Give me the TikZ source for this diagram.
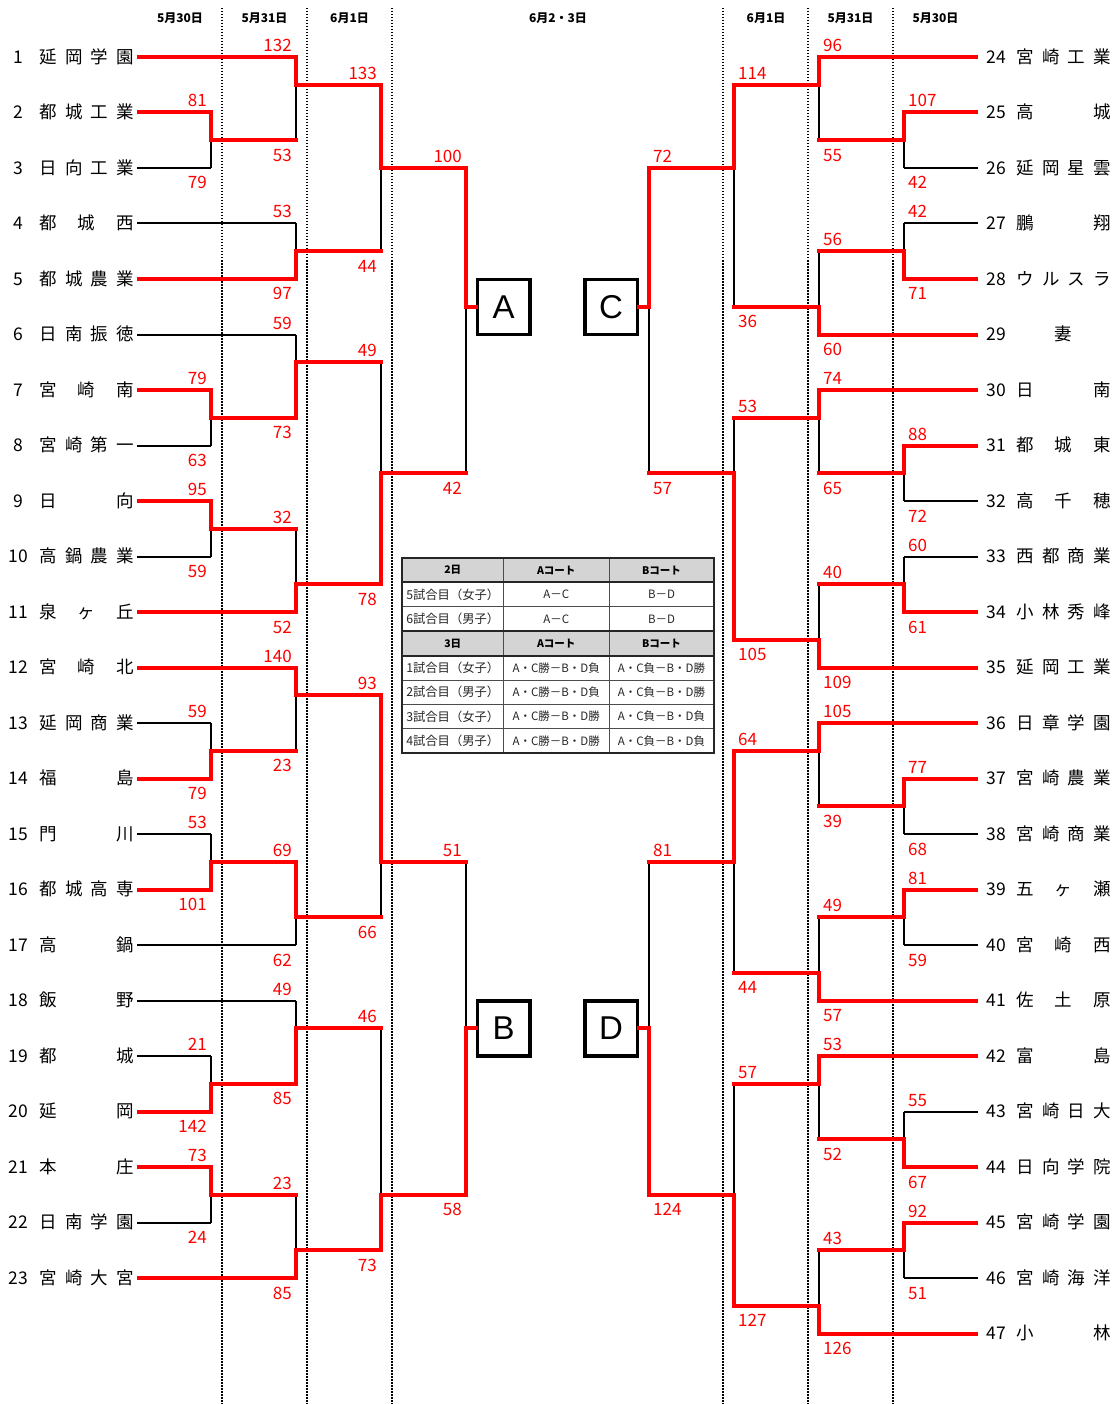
\documentclass[tikz,border=0pt]{standalone}
\usepackage{fontspec}
\setmainfont{Noto Sans CJK JP}
\newfontfamily\boxfont{Liberation Sans}
\pgfdeclarelayer{bg}
\pgfsetlayers{bg,main}
\definecolor{brred}{RGB}{255,0,0}
\definecolor{hdrgray}{RGB}{212,212,212}
\tikzset{
  win/.style={draw=brred, line width=4pt, line cap=rect, line join=miter},
  teamwin/.style={draw=brred, line width=4pt},
  lose/.style={draw=black, line width=2pt},
  score/.style={text=brred, inner sep=0pt, font=\fontsize{17}{17}\selectfont},
  tnum/.style={inner sep=0pt, anchor=base, font=\fontsize{17.5}{17.5}\selectfont},
  tname/.style={inner sep=0pt, anchor=base west, font=\fontsize{17.5}{17.5}\selectfont},
  datehdr/.style={inner sep=0pt, font=\bfseries\fontsize{12}{12}\selectfont},
  courtbox/.style={draw=black, line width=3.5pt, fill=white, minimum width=52.5pt, minimum height=55pt, inner sep=0pt, font=\boxfont\fontsize{33}{33}\selectfont},
  dotline/.style={draw=black, line width=1.5pt, dash pattern=on 1.5pt off 1.5pt},
  cellh/.style={inner sep=0pt, font=\bfseries\fontsize{10.5}{10.5}\selectfont},
  cellb/.style={inner sep=0pt, text=black!85, font=\fontsize{11.5}{11.5}\selectfont},
  cellf/.style={inner sep=0pt, text=black!85, font=\fontsize{12.3}{12.3}\selectfont},
  gridthin/.style={draw=black!70, line width=0.8pt},
  gridthick/.style={draw=black!85, line width=2pt},
}
% team on the left: num, y, end x, won(1/0), name
\newcommand\teamL[5]{%
  \ifnum#4=1 \draw[teamwin] (137,#2) -- (#3,#2);%
  \else \begin{pgfonlayer}{bg}\draw[lose] (137,#2) -- (#3,#2);\end{pgfonlayer}\fi
  \node[tnum] (n#1) at (18,#2+6.3) {#1};
  \node[tname] (t#1) at (39.5,#2+6.3) {\hbox to 94pt{#5}};
}
\newcommand\teamR[5]{%
  \ifnum#4=1 \draw[teamwin] (978,#2) -- (#3,#2);%
  \else \begin{pgfonlayer}{bg}\draw[lose] (978,#2) -- (#3,#2);\end{pgfonlayer}\fi
  \node[tnum] (n#1) at (996,#2+6.3) {#1};
  \node[tname] (t#1) at (1016.3,#2+6.3) {\hbox to 94pt{#5}};
}
% match: x, top y, bottom y, join y, out x, winner(1 top/2 bottom), top score, bottom score, id
\newcommand\mtchL[9]{%
  \begin{pgfonlayer}{bg}%
  \ifnum#6=1 \draw[lose] (#1,#4) -- (#1,#3);\else \draw[lose] (#1,#4) -- (#1,#2);\fi
  \end{pgfonlayer}%
  \ifnum#6=1 \draw[win] (#1,#2) -- (#1,#4) -- (#5,#4);\else \draw[win] (#1,#3) -- (#1,#4) -- (#5,#4);\fi
  \node[score, anchor=base east] (s#9a) at (#1-4,#2-5.5) {#7};
  \node[score, anchor=base east] (s#9b) at (#1-4,#3+21) {#8};
}
\newcommand\mtchR[9]{%
  \begin{pgfonlayer}{bg}%
  \ifnum#6=1 \draw[lose] (#1,#4) -- (#1,#3);\else \draw[lose] (#1,#4) -- (#1,#2);\fi
  \end{pgfonlayer}%
  \ifnum#6=1 \draw[win] (#1,#2) -- (#1,#4) -- (#5,#4);\else \draw[win] (#1,#3) -- (#1,#4) -- (#5,#4);\fi
  \node[score, anchor=base west] (s#9a) at (#1+4,#2-5.5) {#7};
  \node[score, anchor=base west] (s#9b) at (#1+4,#3+21) {#8};
}
\begin{document}
\begin{tikzpicture}[x=1pt,y=-1pt]
\useasboundingbox (0,0) rectangle (1114,1404);
\begin{pgfonlayer}{bg}
\fill[white] (0,0) rectangle (1114,1404);
\foreach \dx in {222,307,392,723,808,893} \draw[dotline] (\dx,8) -- (\dx,1404);
\end{pgfonlayer}

% date headers
\node[datehdr] (d1) at (180,18) {5月30日};
\node[datehdr] (d2) at (264.5,18) {5月31日};
\node[datehdr] (d3) at (349.5,18) {6月1日};
\node[datehdr] (d4) at (558,18) {6月2・3日};
\node[datehdr] (d5) at (766,18) {6月1日};
\node[datehdr] (d6) at (850.5,18) {5月31日};
\node[datehdr] (d7) at (935.5,18) {5月30日};

% boxes
\node[courtbox] (A) at (503.5,307) {A};
\node[courtbox] (B) at (503.5,1028.25) {B};
\node[courtbox] (C) at (611,307) {C};
\node[courtbox] (D) at (611,1028.25) {D};

% left teams
\teamL{1}{57}{296}{1}{延\hfil 岡\hfil 学\hfil 園}
\teamL{2}{112.5}{211}{1}{都\hfil 城\hfil 工\hfil 業}
\teamL{3}{168}{211}{0}{日\hfil 向\hfil 工\hfil 業}
\teamL{4}{223.5}{296}{0}{都\hfil 城\hfil 西}
\teamL{5}{279}{296}{1}{都\hfil 城\hfil 農\hfil 業}
\teamL{6}{334.5}{296}{0}{日\hfil 南\hfil 振\hfil 徳}
\teamL{7}{390}{211}{1}{宮\hfil 崎\hfil 南}
\teamL{8}{445.5}{211}{0}{宮\hfil 崎\hfil 第\hfil 一}
\teamL{9}{501}{211}{1}{日\hfil 向}
\teamL{10}{556.5}{211}{0}{高\hfil 鍋\hfil 農\hfil 業}
\teamL{11}{612}{296}{1}{泉\hfil ヶ\hfil 丘}
\teamL{12}{667.5}{296}{1}{宮\hfil 崎\hfil 北}
\teamL{13}{723}{211}{0}{延\hfil 岡\hfil 商\hfil 業}
\teamL{14}{778.5}{211}{1}{福\hfil 島}
\teamL{15}{834}{211}{0}{門\hfil 川}
\teamL{16}{889.5}{211}{1}{都\hfil 城\hfil 高\hfil 専}
\teamL{17}{945}{296}{0}{高\hfil 鍋}
\teamL{18}{1000.5}{296}{0}{飯\hfil 野}
\teamL{19}{1056}{211}{0}{都\hfil 城}
\teamL{20}{1111.5}{211}{1}{延\hfil 岡}
\teamL{21}{1167}{211}{1}{本\hfil 庄}
\teamL{22}{1222.5}{211}{0}{日\hfil 南\hfil 学\hfil 園}
\teamL{23}{1278}{296}{1}{宮\hfil 崎\hfil 大\hfil 宮}

% right teams
\teamR{24}{57}{819}{1}{宮\hfil 崎\hfil 工\hfil 業}
\teamR{25}{112.5}{904}{1}{高\hfil 城}
\teamR{26}{168}{904}{0}{延\hfil 岡\hfil 星\hfil 雲}
\teamR{27}{223.5}{904}{0}{鵬\hfil 翔}
\teamR{28}{279}{904}{1}{ウ\hfil ル\hfil ス\hfil ラ}
\teamR{29}{334.5}{819}{1}{\hfil 妻\hfil}
\teamR{30}{390}{819}{1}{日\hfil 南}
\teamR{31}{445.5}{904}{1}{都\hfil 城\hfil 東}
\teamR{32}{501}{904}{0}{高\hfil 千\hfil 穂}
\teamR{33}{556.5}{904}{0}{西\hfil 都\hfil 商\hfil 業}
\teamR{34}{612}{904}{1}{小\hfil 林\hfil 秀\hfil 峰}
\teamR{35}{667.5}{819}{1}{延\hfil 岡\hfil 工\hfil 業}
\teamR{36}{723}{819}{1}{日\hfil 章\hfil 学\hfil 園}
\teamR{37}{778.5}{904}{1}{宮\hfil 崎\hfil 農\hfil 業}
\teamR{38}{834}{904}{0}{宮\hfil 崎\hfil 商\hfil 業}
\teamR{39}{889.5}{904}{1}{五\hfil ヶ\hfil 瀬}
\teamR{40}{945}{904}{0}{宮\hfil 崎\hfil 西}
\teamR{41}{1000.5}{819}{1}{佐\hfil 土\hfil 原}
\teamR{42}{1056}{819}{1}{富\hfil 島}
\teamR{43}{1111.5}{904}{0}{宮\hfil 崎\hfil 日\hfil 大}
\teamR{44}{1167}{904}{1}{日\hfil 向\hfil 学\hfil 院}
\teamR{45}{1222.5}{904}{1}{宮\hfil 崎\hfil 学\hfil 園}
\teamR{46}{1278}{904}{0}{宮\hfil 崎\hfil 海\hfil 洋}
\teamR{47}{1333.5}{819}{1}{小\hfil 林}

% left matches, block A
\mtchL{211}{112.5}{168}{140.25}{296}{1}{81}{79}{1}
\mtchL{296}{57}{140.25}{84.75}{381}{1}{132}{53}{2}
\mtchL{296}{223.5}{279}{251.25}{381}{2}{53}{97}{3}
\mtchL{381}{84.75}{251.25}{168}{466}{1}{133}{44}{4}
\mtchL{211}{390}{445.5}{417.75}{296}{1}{79}{63}{5}
\mtchL{296}{334.5}{417.75}{362.25}{381}{2}{59}{73}{6}
\mtchL{211}{501}{556.5}{528.75}{296}{1}{95}{59}{7}
\mtchL{296}{528.75}{612}{584.25}{381}{2}{32}{52}{8}
\mtchL{381}{362.25}{584.25}{473.25}{466}{2}{49}{78}{9}
\begin{pgfonlayer}{bg}\draw[lose] (466,307) -- (466,473.25);\end{pgfonlayer}
\draw[win] (466,168) -- (466,307) -- (A.west);
\node[score, anchor=base east] (s10a) at (462,162.5) {100};
\node[score, anchor=base east] (s10b) at (462,494.25) {42};

% left matches, block B
\mtchL{211}{723}{778.5}{750.75}{296}{2}{59}{79}{11}
\mtchL{296}{667.5}{750.75}{695.25}{381}{1}{140}{23}{12}
\mtchL{211}{834}{889.5}{861.75}{296}{2}{53}{101}{13}
\mtchL{296}{861.75}{945}{917.25}{381}{1}{69}{62}{14}
\mtchL{381}{695.25}{917.25}{861.75}{466}{1}{93}{66}{15}
\mtchL{211}{1056}{1111.5}{1083.75}{296}{2}{21}{142}{16}
\mtchL{296}{1000.5}{1083.75}{1028.25}{381}{2}{49}{85}{17}
\mtchL{211}{1167}{1222.5}{1194.75}{296}{1}{73}{24}{18}
\mtchL{296}{1194.75}{1278}{1250.25}{381}{2}{23}{85}{19}
\mtchL{381}{1028.25}{1250.25}{1194.75}{466}{2}{46}{73}{20}
\begin{pgfonlayer}{bg}\draw[lose] (466,1028.25) -- (466,861.75);\end{pgfonlayer}
\draw[win] (466,1194.75) -- (466,1028.25) -- (B.west);
\node[score, anchor=base east] (s21a) at (462,856.25) {51};
\node[score, anchor=base east] (s21b) at (462,1215.75) {58};

% right matches, block C
\mtchR{904}{112.5}{168}{140.25}{819}{1}{107}{42}{22}
\mtchR{819}{57}{140.25}{84.75}{734}{1}{96}{55}{23}
\mtchR{904}{223.5}{279}{251.25}{819}{2}{42}{71}{24}
\mtchR{819}{251.25}{334.5}{306.75}{734}{2}{56}{60}{25}
\mtchR{734}{84.75}{306.75}{168}{649}{1}{114}{36}{26}
\mtchR{904}{445.5}{501}{473.25}{819}{1}{88}{72}{27}
\mtchR{819}{390}{473.25}{417.75}{734}{1}{74}{65}{28}
\mtchR{904}{556.5}{612}{584.25}{819}{2}{60}{61}{29}
\mtchR{819}{584.25}{667.5}{639.75}{734}{2}{40}{109}{30}
\mtchR{734}{417.75}{639.75}{473.25}{649}{2}{53}{105}{31}
\begin{pgfonlayer}{bg}\draw[lose] (649,307) -- (649,473.25);\end{pgfonlayer}
\draw[win] (649,168) -- (649,307) -- (C.east);
\node[score, anchor=base west] (s32a) at (653,162.5) {72};
\node[score, anchor=base west] (s32b) at (653,494.25) {57};

% right matches, block D
\mtchR{904}{778.5}{834}{806.25}{819}{1}{77}{68}{33}
\mtchR{819}{723}{806.25}{750.75}{734}{1}{105}{39}{34}
\mtchR{904}{889.5}{945}{917.25}{819}{1}{81}{59}{35}
\mtchR{819}{917.25}{1000.5}{972.75}{734}{2}{49}{57}{36}
\mtchR{734}{750.75}{972.75}{861.75}{649}{1}{64}{44}{37}
\mtchR{904}{1111.5}{1167}{1139.25}{819}{2}{55}{67}{38}
\mtchR{819}{1056}{1139.25}{1083.75}{734}{1}{53}{52}{39}
\mtchR{904}{1222.5}{1278}{1250.25}{819}{1}{92}{51}{40}
\mtchR{819}{1250.25}{1333.5}{1305.75}{734}{2}{43}{126}{41}
\mtchR{734}{1083.75}{1305.75}{1194.75}{649}{2}{57}{127}{42}
\begin{pgfonlayer}{bg}\draw[lose] (649,1028.25) -- (649,861.75);\end{pgfonlayer}
\draw[win] (649,1194.75) -- (649,1028.25) -- (D.east);
\node[score, anchor=base west] (s43a) at (653,856.25) {81};
\node[score, anchor=base west] (s43b) at (653,1215.75) {124};

% schedule table
\fill[hdrgray] (402,558) rectangle (714,582.4);
\fill[hdrgray] (402,631.2) rectangle (714,655.6);
\draw[gridthin] (402,606.8) -- (714,606.8);
\draw[gridthin] (402,680) -- (714,680);
\draw[gridthin] (402,704.4) -- (714,704.4);
\draw[gridthin] (402,728.8) -- (714,728.8);
\draw[gridthin] (503.5,558) -- (503.5,753.2);
\draw[gridthin] (609,558) -- (609,753.2);
\draw[gridthick] (402,582.4) -- (714,582.4);
\draw[gridthick] (402,631.2) -- (714,631.2);
\draw[gridthick] (402,655.6) -- (714,655.6);
\draw[gridthick] (402,558) rectangle (714,753.2);

\node[cellh] (h1a) at (452.75,570.2) {2日};
\node[cellh] (h1b) at (556.25,570.2) {Aコート};
\node[cellh] (h1c) at (661.5,570.2) {Bコート};
\node[cellf] (r1a) at (452.75,594.6) {5試合目（女子）};
\node[cellb] (r1b) at (556.25,594.6) {A－C};
\node[cellb] (r1c) at (661.5,594.6) {B－D};
\node[cellf] (r2a) at (452.75,619) {6試合目（男子）};
\node[cellb] (r2b) at (556.25,619) {A－C};
\node[cellb] (r2c) at (661.5,619) {B－D};
\node[cellh] (h2a) at (452.75,643.4) {3日};
\node[cellh] (h2b) at (556.25,643.4) {Aコート};
\node[cellh] (h2c) at (661.5,643.4) {Bコート};
\node[cellf] (r3a) at (452.75,667.8) {1試合目（女子）};
\node[cellb] (r3b) at (556.25,667.8) {A・C勝－B・D負};
\node[cellb] (r3c) at (661.5,667.8) {A・C負－B・D勝};
\node[cellf] (r4a) at (452.75,692.2) {2試合目（男子）};
\node[cellb] (r4b) at (556.25,692.2) {A・C勝－B・D負};
\node[cellb] (r4c) at (661.5,692.2) {A・C負－B・D勝};
\node[cellf] (r5a) at (452.75,716.6) {3試合目（女子）};
\node[cellb] (r5b) at (556.25,716.6) {A・C勝－B・D勝};
\node[cellb] (r5c) at (661.5,716.6) {A・C負－B・D負};
\node[cellf] (r6a) at (452.75,741) {4試合目（男子）};
\node[cellb] (r6b) at (556.25,741) {A・C勝－B・D勝};
\node[cellb] (r6c) at (661.5,741) {A・C負－B・D負};
\end{tikzpicture}
\end{document}
